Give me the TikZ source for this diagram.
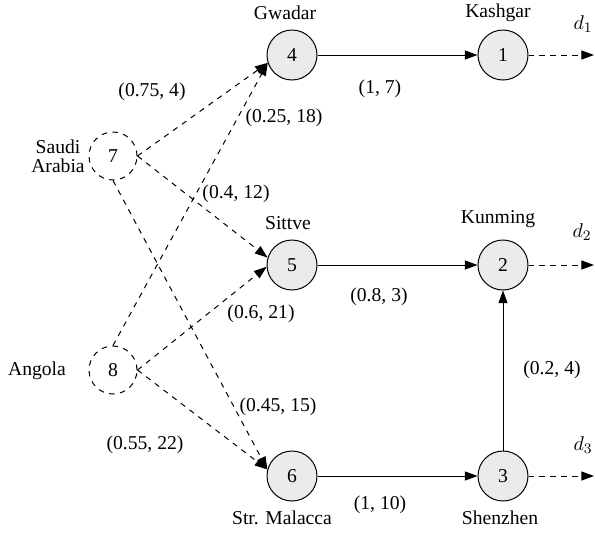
\documentclass[tikz,border=0pt]{standalone}
\usepackage{fontspec}
\setmainfont{Liberation Serif}
\usetikzlibrary{arrows.meta}

\begin{document}
\begin{tikzpicture}[x=0.55pt,y=-0.55pt,line width=0.55pt,>={Triangle[length=7pt,width=5pt]},
    font=\fontsize{10.8}{12.5}\selectfont,
    pnode/.style={draw,circle,fill=black!8,minimum size=27.5pt,inner sep=0pt},
    snode/.style={draw,circle,dashed,minimum size=26.4pt,inner sep=0pt},
    lbl/.style={inner sep=1pt}]
    \useasboundingbox (0,0) rectangle (595,533);
    % ports and cities
    \node[pnode] (4) at (292,55)  {4};
    \node[pnode] (1) at (503,55)  {1};
    \node[pnode] (5) at (292,265) {5};
    \node[pnode] (2) at (503,265) {2};
    \node[pnode] (6) at (292,476) {6};
    \node[pnode] (3) at (503,476) {3};
    \node[snode] (7) at (113,156) {7};
    \node[snode] (8) at (113,370) {8};
    \coordinate (d1) at (594,55);
    \coordinate (d2) at (594,265);
    \coordinate (d3) at (594,476);

    \node (4n) at (285,13)  {Gwadar};
    \node (1n) at (498,13)  {Kashgar};
    \node (5n) at (288,223) {Sittve};
    \node (2n) at (498,219) {Kunming};
    \node (6n) at (282,518) {Str. Malacca};
    \node (3n) at (500,518) {Shenzhen};
    \node[align=center] (7n) at (58,156) {Saudi\\[-2pt]Arabia};
    \node (8n) at (37,371) {Angola};
    \node (d1n) at (583,24)  {$d_1$};
    \node (d2n) at (582,232) {$d_2$};
    \node (d3n) at (583,445) {$d_3$};

    \draw[->] (4) -- (1) ;
    \draw[->] (5) -- (2) ;
    \draw[->] (6) -- (3) ;
    \draw[->] (3) -- (2) ;

   \begin{scope}[dashed]
    \draw[->] (7.east) -- (4.198) ;
    \draw[->] (8.north) -- (4.198) ;
    \draw[->] (7.east) -- (5.163) ;
    \draw[->] (8.east) -- (5.184) ;
    \draw[->] (7.south) -- (6.165) ;
    \draw[->] (8.east) -- (6.165) ;
    \draw[->] (1) -- (d1) ;
    \draw[->] (2) -- (d2) ;
    \draw[->] (3) -- (d3) ;
   \end{scope}

    \node[lbl] (l74) at (152,92)  {(0.75, 4)};
    \node[lbl] (l84) at (284,118) {(0.25, 18)};
    \node[lbl] (l75) at (236,194) {(0.4, 12)};
    \node[lbl] (l85) at (261,314) {(0.6, 21)};
    \node[lbl] (l76) at (278,407) {(0.45, 15)};
    \node[lbl] (l86) at (145,445) {(0.55, 22)};
    \node[lbl] (l41) at (380,89)  {(1, 7)};
    \node[lbl] (l52) at (379,297) {(0.8, 3)};
    \node[lbl] (l32) at (552,370) {(0.2, 4)};
    \node[lbl] (l63) at (380,505) {(1, 10)};
\end{tikzpicture}
\end{document}
